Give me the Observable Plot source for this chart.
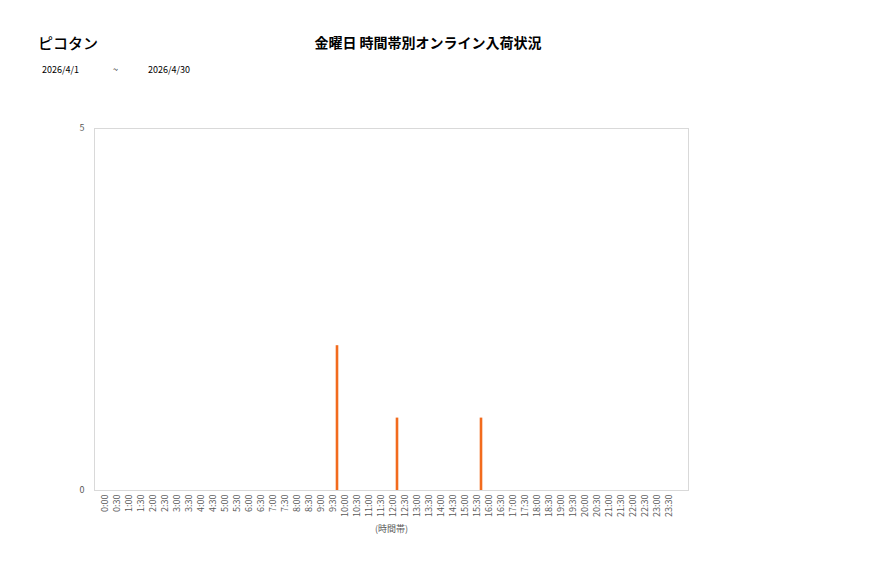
<!DOCTYPE html>
<html><head><meta charset="utf-8">
<script src="https://cdn.jsdelivr.net/npm/d3@7"></script>
<script src="https://cdn.jsdelivr.net/npm/@observablehq/plot@0.6"></script>
<style>
body{margin:0;background:#fff;font-family:"Noto Sans CJK JP","Noto Sans",sans-serif;}
#wrap{position:relative;width:877px;height:578px;}
.t{position:absolute;white-space:nowrap;color:#000;}
</style></head>
<body><div id="wrap">
<div class="t" style="left:38px;top:32px;font-size:15px;font-weight:500;">ピコタン</div>
<div class="t" style="left:428px;top:32px;font-size:14px;font-weight:bold;transform:translateX(-50%);">金曜日 時間帯別オンライン入荷状況</div>
<div class="t" style="left:42px;top:63px;font-size:9px;">2026/4/1</div>
<div class="t" style="left:113px;top:63px;font-size:9px;">~</div>
<div class="t" style="left:148px;top:63px;font-size:9px;">2026/4/30</div>
</div>
<script>
const times = [];
for (let h = 0; h < 24; h++) { times.push(h + ":00"); times.push(h + ":30"); }
const barTimes = ["9:30", "12:00", "15:30"];
const barValues = [2, 1, 1];
const yTicks = [0, 5];
const data = times.map(t => { const i = barTimes.indexOf(t); return {time: t, value: i >= 0 ? barValues[i] : 0}; });

const chart = Plot.plot({
  width: 877, height: 578,
  marginLeft: 94, marginRight: 189, marginTop: 128, marginBottom: 88,
  style: {fontFamily: '"Noto Sans CJK JP","Noto Sans",sans-serif', background: "transparent"},
  x: {type: "band", domain: times, padding: 0, label: null},
  y: {domain: [0, 5], label: null},
  marks: [
    Plot.frame({stroke: "#d9d9d9"}),
    Plot.barY(data.filter(d => d.value > 0), {x: "time", y: "value", fill: "#f26b1d", insetLeft: 4.7, insetRight: 4.7}),
    Plot.axisY({ticks: yTicks, tickFormat: d3.format("d"), tickSize: 0, tickPadding: 10, fontSize: 9, fill: "#595959"}),
    Plot.axisX({tickSize: 0, tickRotate: -90, tickPadding: 4, fontSize: 9, fill: "#595959", dx: -4}),
    Plot.text(["(時間帯)"], {frameAnchor: "bottom", dy: 41, fontSize: 9, fill: "#595959"})
  ]
});
chart.style.position = "absolute";
chart.style.left = "0"; chart.style.top = "0";
document.getElementById("wrap").appendChild(chart);
</script>
</body></html>
